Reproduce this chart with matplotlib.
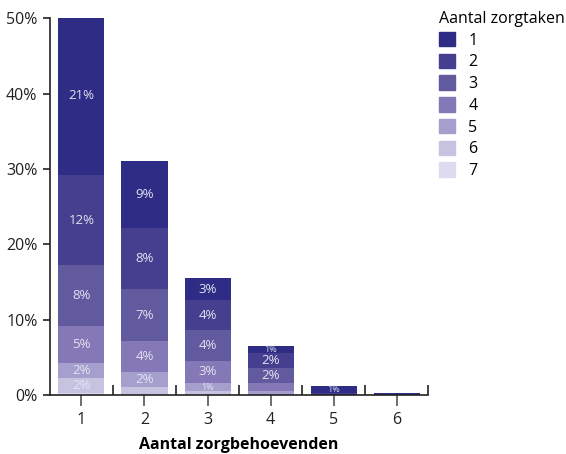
import matplotlib.pyplot as plt
import matplotlib.patches as mpatches
import numpy as np

plt.rcParams['font.family'] = ['Open Sans', 'DejaVu Sans']

# number of care recipients (x) and share per number of care tasks (stacked)
categories = ['1', '2', '3', '4', '5', '6']
task_labels = ['1', '2', '3', '4', '5', '6', '7']
# rows: care tasks 1..7, columns: care recipients 1..6 (percent)
shares = [
    [21.0, 9.0, 2.9, 0.9, 1.0, 0.3],
    [12.0, 8.0, 4.0, 2.0, 0.2, 0.0],
    [8.0, 7.0, 4.1, 2.0, 0.0, 0.0],
    [5.0, 4.0, 2.9, 1.1, 0.0, 0.0],
    [2.0, 2.0, 1.1, 0.5, 0.0, 0.0],
    [2.0, 1.1, 0.5, 0.0, 0.0, 0.0],
    [0.2, 0.0, 0.0, 0.0, 0.0, 0.0],
]
# labels printed inside segments ('' = none)
seg_labels = [
    ['21%', '9%', '3%', '1%', '1%', ''],
    ['12%', '8%', '4%', '2%', '', ''],
    ['8%', '7%', '4%', '2%', '', ''],
    ['5%', '4%', '3%', '', '', ''],
    ['2%', '2%', '1%', '', '', ''],
    ['2%', '', '', '', '', ''],
    ['', '', '', '', '', ''],
]
colors = ['#2e2c84', '#463f90', '#625a9f', '#8479b6', '#a59fcd', '#c6c3e1', '#dddbef']

fig = plt.figure(figsize=(5.66, 4.54), dpi=100)
ax = fig.add_axes([0.0883, 0.130, 0.668, 0.830])

x = np.arange(1, len(categories) + 1)
bottom = np.zeros(len(categories))
# draw from bottom (7 tasks) up to top (1 task)
for i in range(len(task_labels) - 1, -1, -1):
    vals = np.array(shares[i])
    ax.bar(x, vals, width=0.73, bottom=bottom, color=colors[i], linewidth=0)
    for j, lab in enumerate(seg_labels[i]):
        if lab:
            fs = 6.5 if vals[j] < 1.2 else 9.5
            ax.text(x[j], bottom[j] + vals[j] / 2, lab, ha='center', va='center',
                    color='#e4e2f2', fontsize=fs)
    bottom += vals

ax.set_xlim(0.5, 6.5)
ax.set_ylim(0, 50)
ax.set_yticks([0, 10, 20, 30, 40, 50])
ax.set_yticklabels(['0%', '10%', '20%', '30%', '40%', '50%'], fontsize=11.5, color='#222222')
ax.set_xticks(x)
ax.set_xticklabels(categories, fontsize=11.5, color='#222222')
ax.set_xticks(np.arange(1.5, 7.0, 1.0), minor=True)
ax.tick_params(axis='x', which='major', direction='out', length=8, width=1.2,
               color='#555555', pad=4)
ax.tick_params(axis='x', which='minor', direction='in', length=7, width=1.2, color='#222222')
ax.tick_params(axis='y', direction='out', length=5, width=1.2, color='#222222', pad=4)
for s in ['top', 'right']:
    ax.spines[s].set_visible(False)
for s in ['left', 'bottom']:
    ax.spines[s].set_linewidth(1.2)
    ax.spines[s].set_color('#222222')
ax.set_xlabel('Aantal zorgbehoevenden', fontsize=11.5, fontweight='bold', labelpad=7)

handles = [mpatches.Patch(color=c, label=l) for c, l in zip(colors, task_labels)]
leg = fig.legend(handles=handles, title='Aantal zorgtaken', loc='upper left',
                 bbox_to_anchor=(0.765, 0.99), frameon=False, fontsize=11.5,
                 title_fontsize=11.5, handlelength=1.0, handleheight=1.0,
                 labelspacing=0.32, handletextpad=0.8, borderaxespad=0)
leg._legend_box.align = 'left'

fig.savefig('out.png', dpi=100)
